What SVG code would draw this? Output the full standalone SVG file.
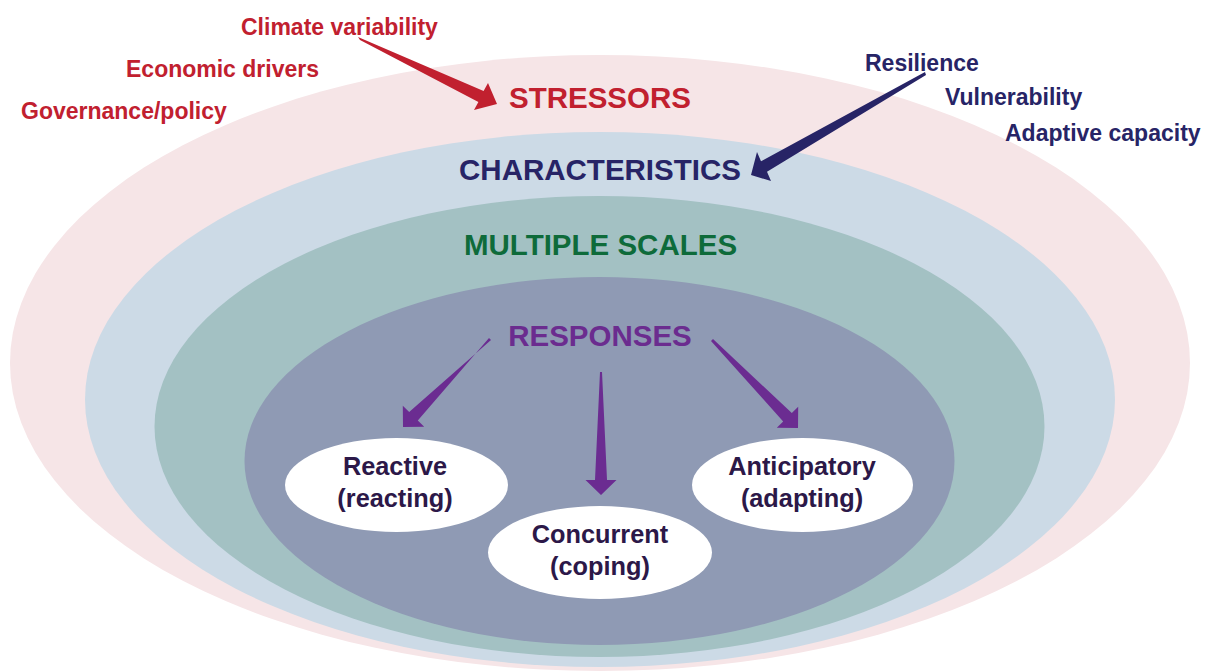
<svg xmlns="http://www.w3.org/2000/svg" width="1212" height="672" viewBox="0 0 1212 672">
<style>
text{font-family:"Liberation Sans",Arial,Helvetica,sans-serif;font-weight:bold}
.big{font-size:29.5px;text-anchor:middle}
.sm{font-size:23px}
.red{fill:#c1202f}
.navy{fill:#272466}
.grn{fill:#0e6b3a}
.pur{fill:#6b2c8f}
.node{fill:#ffffff}
.nt{font-size:25.3px;fill:#2c1848;text-anchor:middle}
.ar-red{fill:#c1202f}
.ar-navy{fill:#272466}
.ar-pur{fill:#6b2c91}
</style>
<rect width="1212" height="672" fill="#ffffff"/>
<g id="stressors">
<ellipse cx="600" cy="363" rx="590" ry="308" fill="#f6e5e7"/>
<text class="big red" x="600" y="108">STRESSORS</text>
</g>
<g id="characteristics">
<ellipse cx="600" cy="399.5" rx="515" ry="267.5" fill="#ccdae6"/>
<text class="big navy" x="600" y="180">CHARACTERISTICS</text>
</g>
<g id="multiple-scales">
<ellipse cx="599.5" cy="426.5" rx="445" ry="230.5" fill="#a3c1c3"/>
<text class="big grn" x="600.5" y="255">MULTIPLE SCALES</text>
</g>
<g id="responses">
<ellipse cx="599.5" cy="461" rx="355" ry="184" fill="#8f9ab4"/>
<text class="big pur" x="600" y="346">RESPONSES</text>
</g>
<g id="stressor-labels">
<text class="sm red" x="241" y="35">Climate variability</text>
<text class="sm red" x="126" y="77">Economic drivers</text>
<text class="sm red" x="21" y="119">Governance/policy</text>
</g>
<g id="characteristic-labels">
<text class="sm navy" x="865" y="71">Resilience</text>
<text class="sm navy" x="945" y="105">Vulnerability</text>
<text class="sm navy" x="1005" y="141">Adaptive capacity</text>
</g>
<g id="reactive">
<ellipse class="node" cx="396.5" cy="485" rx="111.5" ry="47"/>
<text class="nt" x="395" y="475">Reactive</text>
<text class="nt" x="395" y="507">(reacting)</text>
</g>
<g id="concurrent">
<ellipse class="node" cx="600" cy="552.5" rx="112" ry="46.5"/>
<text class="nt" x="600" y="543">Concurrent</text>
<text class="nt" x="600" y="575">(coping)</text>
</g>
<g id="anticipatory">
<ellipse class="node" cx="802.5" cy="485" rx="110.5" ry="47"/>
<text class="nt" x="802" y="475">Anticipatory</text>
<text class="nt" x="802" y="507">(adapting)</text>
</g>
<g id="connectors">
<polygon class="ar-red" points="358,37 360,40 478.4,101.9 474,110 497,104 488,83 483.6,91.1"/>
<polygon class="ar-navy" points="925,72 926,75 767,171.7 771,181 751,175 757,152 761,161.3"/>
<polygon class="ar-pur" points="489,338 491,340 409.2,412.1 402.8,405.8 403,427 424.2,426.8 417.8,420.5"/>
<polygon class="ar-pur" points="600,372 602,372 607,480 616.5,480 601,495 585.5,480 595,480"/>
<polygon class="ar-pur" points="713,339 711,341 783.2,421.5 776.8,427.8 798,428 798.2,406.8 791.8,413.1"/>
</g>
</svg>
